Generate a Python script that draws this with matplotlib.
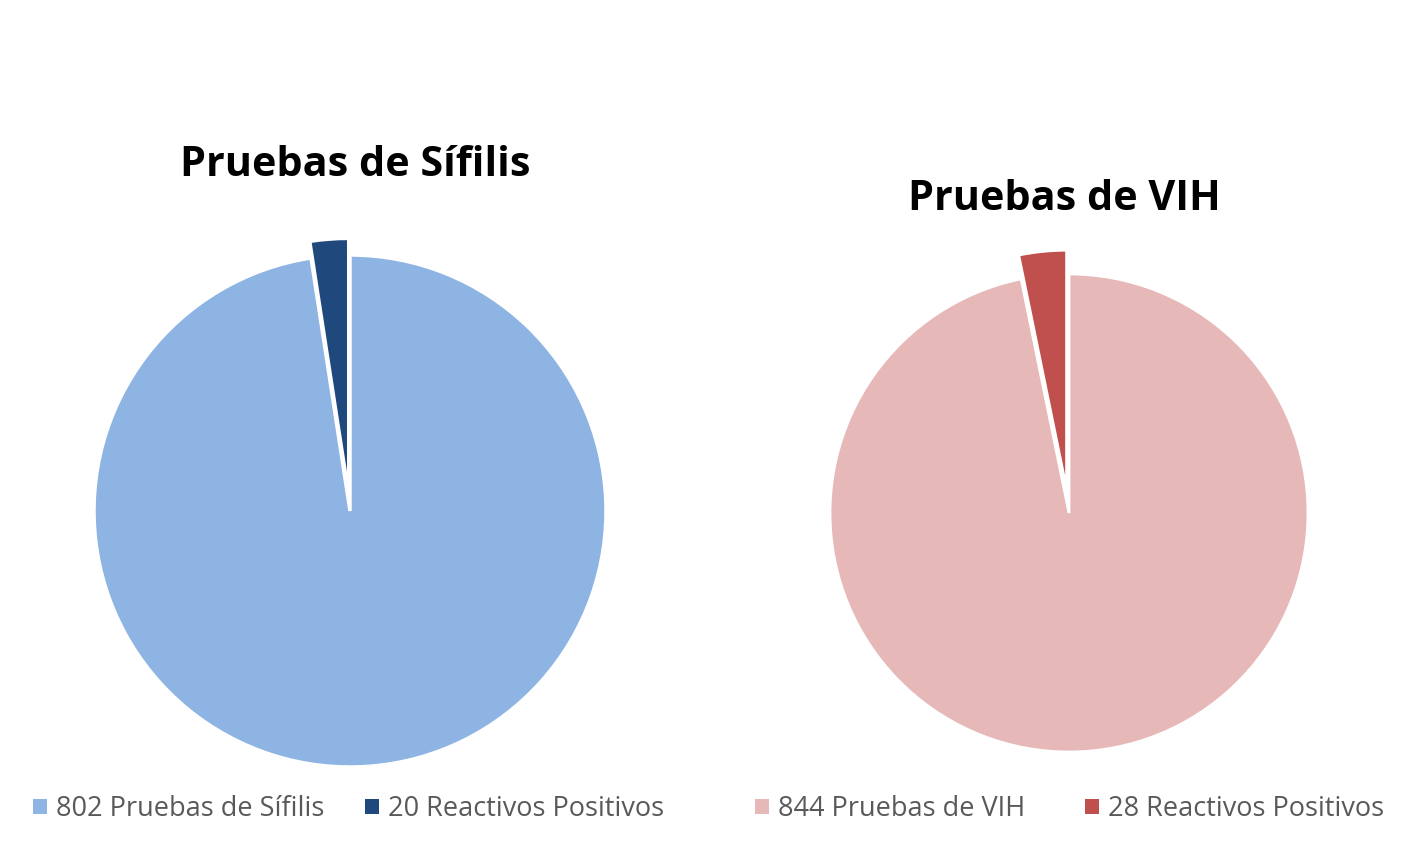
import matplotlib
matplotlib.use("Agg")
import matplotlib.pyplot as plt
from matplotlib.patches import Patch

W, H = 1411, 843
DPI = 100

sif_labels = ["802 Pruebas de Sífilis", "20 Reactivos Positivos"]
sif_values = [802, 20]
sif_colors = ["#8EB4E3", "#1F497D"]

vih_labels = ["844 Pruebas de VIH", "28 Reactivos Positivos"]
vih_values = [844, 28]
vih_colors = ["#E6B9B8", "#C0504D"]

titles = ["Pruebas de Sífilis", "Pruebas de VIH"]

fig = plt.figure(figsize=(W / DPI, H / DPI), dpi=DPI)
fig.patch.set_facecolor("white")

def pie_axes(cx, cy, r, lim=1.25):
    size = 2 * lim * r
    ax = fig.add_axes([(cx - size / 2) / W, 1 - (cy + size / 2) / H, size / W, size / H])
    ax.set_xlim(-lim, lim)
    ax.set_ylim(-lim, lim)
    ax.set_aspect("equal")
    ax.axis("off")
    return ax

ax1 = pie_axes(350, 511, 256)
ax1.pie(sif_values, colors=sif_colors, startangle=90, counterclock=False,
        explode=[0, 0.065], radius=1,
        wedgeprops=dict(edgecolor="white", linewidth=2.5))

ax2 = pie_axes(1069, 513, 239)
ax2.pie(vih_values, colors=vih_colors, startangle=90, counterclock=False,
        explode=[0, 0.1], radius=1,
        wedgeprops=dict(edgecolor="white", linewidth=2.0))

title_font = dict(family=["Open Sans", "DejaVu Sans"], fontweight="bold", fontsize=29.8, color="black")
fig.text(355 / W, 1 - 165 / H, titles[0], ha="center", va="center", **title_font)
fig.text(1064 / W, 1 - 199 / H, titles[1], ha="center", va="center", **title_font)

leg_font = dict(family=["Open Sans", "DejaVu Sans"], size=19.5)

def add_entry(label, color, x_left):
    handle = Patch(facecolor=color, edgecolor="none")
    leg = fig.legend([handle], [label], loc="center left",
                     bbox_to_anchor=(x_left / W, 1 - 809 / H), frameon=False,
                     prop=leg_font, handlelength=0.5, handleheight=0.5,
                     handletextpad=0.35, borderpad=0, borderaxespad=0)
    for t in leg.get_texts():
        t.set_color("#595959")
    return leg

entry_x = [33, 365, 755, 1085]
all_labels = sif_labels + vih_labels
all_colors = sif_colors + vih_colors
for lab, col, x in zip(all_labels, all_colors, entry_x):
    add_entry(lab, col, x)

fig.savefig("out.png", dpi=DPI, facecolor="white")
